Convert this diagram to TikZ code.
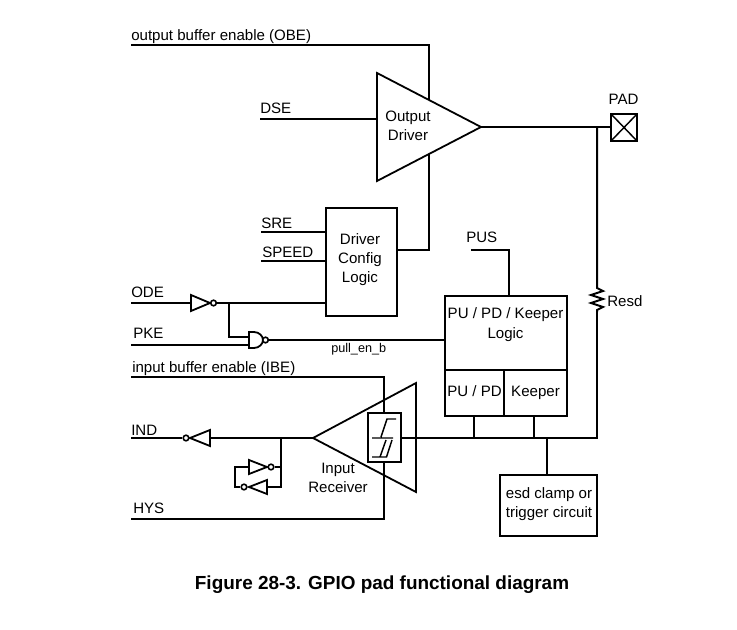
\documentclass[tikz,border=0pt]{standalone}
\usepackage{fontspec}
\setmainfont{Liberation Sans}
\begin{document}
\begin{tikzpicture}[x=0.75pt,y=-0.75pt,
  wire/.style={line width=1.35pt,line join=miter},
  gate/.style={line width=1.35pt,line join=miter,fill=white},
  bubble/.style={circle,draw,line width=1.2pt,inner sep=0pt,minimum size=4.2pt,fill=white},
  box/.style={draw,line width=1.35pt,inner sep=0pt,outer sep=0pt,fill=white},
  lbl/.style={font=\fontsize{11.3pt}{12pt}\selectfont,inner sep=0pt,anchor=base west,yshift=-0.75pt},
  clbl/.style={font=\fontsize{11.3pt}{12pt}\selectfont,inner sep=0pt,anchor=base,yshift=-0.75pt}]
\useasboundingbox (0,0) rectangle (737,630);
% free ends and junctions
\coordinate (obeS) at (131,45); \coordinate (obeC) at (429,45); \coordinate (obeE) at (429,100);
\coordinate (dseS) at (260,119); \coordinate (dseE) at (377,119);
\coordinate (odT) at (377,73); \coordinate (odB) at (377,181); \coordinate (odO) at (481,127);
\coordinate (fbS) at (429,154); \coordinate (fbC) at (429,250);
\coordinate (padJ) at (597,127);
\coordinate (sreS) at (261,232); \coordinate (speedS) at (261,261);
\coordinate (odeS) at (131,303); \coordinate (odeJ) at (229,303);
\coordinate (pkeS) at (131,345); \coordinate (ibeS) at (131,377); \coordinate (ibeC) at (384,377);
\coordinate (hysS) at (131,519); \coordinate (hysC) at (384,519);
\coordinate (indS) at (131,438); \coordinate (indJ) at (281,438);
\coordinate (rxTip) at (313,438); \coordinate (rxT) at (416,383); \coordinate (rxB) at (416,492);
\coordinate (pusS) at (471,250); \coordinate (pusC) at (509,250); \coordinate (pusE) at (509,296);
\coordinate (rTop) at (597,288); \coordinate (rBot) at (597,312);
\coordinate (busC) at (597,438);
\coordinate (puT) at (474,416); \coordinate (puB) at (474,438);
\coordinate (kpT) at (534,416); \coordinate (kpB) at (534,438);
\coordinate (esdT) at (547,438);

% boxes
\node[box,minimum width=53.25pt,minimum height=81pt] (cfg) at (361.5,262) {};
\node[box,minimum width=91.5pt,minimum height=55.5pt] (pul) at (506,333) {};
\node[box,minimum width=44.25pt,minimum height=34.5pt] (pud) at (474.5,393) {};
\node[box,minimum width=47.25pt,minimum height=34.5pt] (kpr) at (535.5,393) {};
\node[box,minimum width=72.75pt,minimum height=45.75pt] (esd) at (548.5,505.5) {};
\node[box,minimum width=19.5pt,minimum height=20.25pt] (pad) at (624,127.5) {};
\draw[line width=1.1pt] (pad.north west) -- (pad.south east) (pad.north east) -- (pad.south west);

% output driver
\draw[gate,fill=none] (odT) -- (odO) -- (odB) -- cycle;
\draw[wire] (obeS) -- (obeC) -- (obeE);
\draw[wire] (dseS) -- (dseE);
\draw[wire] (fbS) -- (fbC) -- (fbC -| cfg.east);
\draw[wire] (odO) -- (odO -| pad.west);
\draw[wire] (sreS) -- (sreS -| cfg.west);
\draw[wire] (speedS) -- (speedS -| cfg.west);

% ODE inverter
\coordinate (i1a) at (191,295); \coordinate (i1b) at (191,311); \coordinate (i1t) at (210,303);
\draw[gate] (i1a) -- (i1t) -- (i1b) -- cycle;
\node[bubble] (i1o) at (213.5,303) {};
\draw[wire] (odeS) -- (191,303);
\draw[wire] (i1o) -- (odeS -| cfg.west);

% NAND
\draw[gate] (249,332) -- (254,332) .. controls (259,332) and (263,336) .. (263,340) .. controls (263,344) and (259,348) .. (254,348) -- (249,348) -- cycle;
\node[bubble] (no) at (265.5,340) {};
\draw[wire] (odeJ) |- (249,337);
\draw[wire] (pkeS) -- (249,345);
\draw[wire] (no) -- (no -| pul.west);

% input receiver
\draw[wire] (ibeS) -- (ibeC) -- (384,413);
\draw[wire] (hysS) -- (hysC) -- (384,462);
\draw[gate,fill=none] (rxTip) -- (rxT) -- (rxB) -- cycle;
\node[box,minimum width=24.75pt,minimum height=36.75pt] (hb) at (384.5,437.5) {};
\draw[line width=1.1pt] (396,419) -- (387,419) -- (381,437) (372,438) -- (393,438)
  (392,440) -- (386.5,457) -- (372,457) (386,440) -- (380,457);
\draw[wire] (hb.east |- busC) -- (busC) -- (rBot);
\draw[wire] (indJ) -- (rxTip);

% IND inverter
\coordinate (i2t) at (190,438);
\draw[gate] (210,430) -- (i2t) -- (210,446) -- cycle;
\node[bubble] (i2o) at (186,438) {};
\draw[wire] (indS) -- (i2o);
\draw[wire] (210,438) -- (indJ);

% keeper loop
\draw[gate] (249,460) -- (267,467) -- (249,474) -- cycle;
\node[bubble] (i3o) at (271,467) {};
\draw[gate] (267,480) -- (249,487) -- (267,494) -- cycle;
\node[bubble] (i4o) at (244,487) {};
\draw[wire] (indJ) -- (281,487) -- (267,487);
\draw[wire] (i3o) -- (281,467);
\draw[wire] (249,467) -- (235,467) -- (235,487) -- (i4o);

% PU logic
\draw[wire] (pusS) -- (pusC) -- (pusE);
\draw[wire] (puT) -- (puB);
\draw[wire] (kpT) -- (kpB);
\draw[wire] (esdT) -- (esd.north -| esdT);

% Resd
\draw[wire,line width=1.5pt] (padJ) -- (rTop) -- (603,291) -- (591,295) -- (603,299) -- (591,303) -- (603,307) -- (597,310) -- (rBot);

% labels
\node[lbl] (tObe) at (131,40) {output buffer enable (OBE)};
\node[lbl] (tDse) at (260,113) {DSE};
\node[clbl] (tOd1) at (408,121) {Output};
\node[clbl] (tOd2) at (408,140) {Driver};
\node[clbl] (tPad) at (623.5,104) {PAD};
\node[lbl] (tSre) at (261,228) {SRE};
\node[lbl] (tSpd) at (262,257) {SPEED};
\node[clbl] (tC1) at (360,244) {Driver};
\node[clbl] (tC2) at (360,263) {Config};
\node[clbl] (tC3) at (360,282) {Logic};
\node[lbl] (tPus) at (466,242) {PUS};
\node[lbl] (tRes) at (607,305) {Resd};
\node[lbl] (tOde) at (131,297) {ODE};
\node[lbl] (tPke) at (133,337) {PKE};
\node[lbl] (tIbe) at (132,371) {input buffer enable (IBE)};
\node[lbl] (tInd) at (131,434) {IND};
\node[lbl] (tHys) at (133,512) {HYS};
\node[lbl,font=\fontsize{9.5pt}{10pt}\selectfont] (tPull) at (331,351) {pull\_en\_b};
\node[clbl] (tP1) at (505.5,318) {PU / PD / Keeper};
\node[clbl] (tP2) at (505.5,337) {Logic};
\node[clbl] (tPd) at (474.5,395) {PU / PD};
\node[clbl] (tK) at (535.5,395) {Keeper};
\node[clbl] (tR1) at (338,472) {Input};
\node[clbl] (tR2) at (338,491) {Receiver};
\node[clbl] (tE1) at (549,497) {esd clamp or};
\node[clbl] (tE2) at (549,516) {trigger circuit};
\node[clbl,font=\fontsize{14.2pt}{16pt}\selectfont\bfseries] (tTitle) at (382,588) {Figure 28-3. GPIO pad functional diagram};
\end{tikzpicture}
\end{document}
